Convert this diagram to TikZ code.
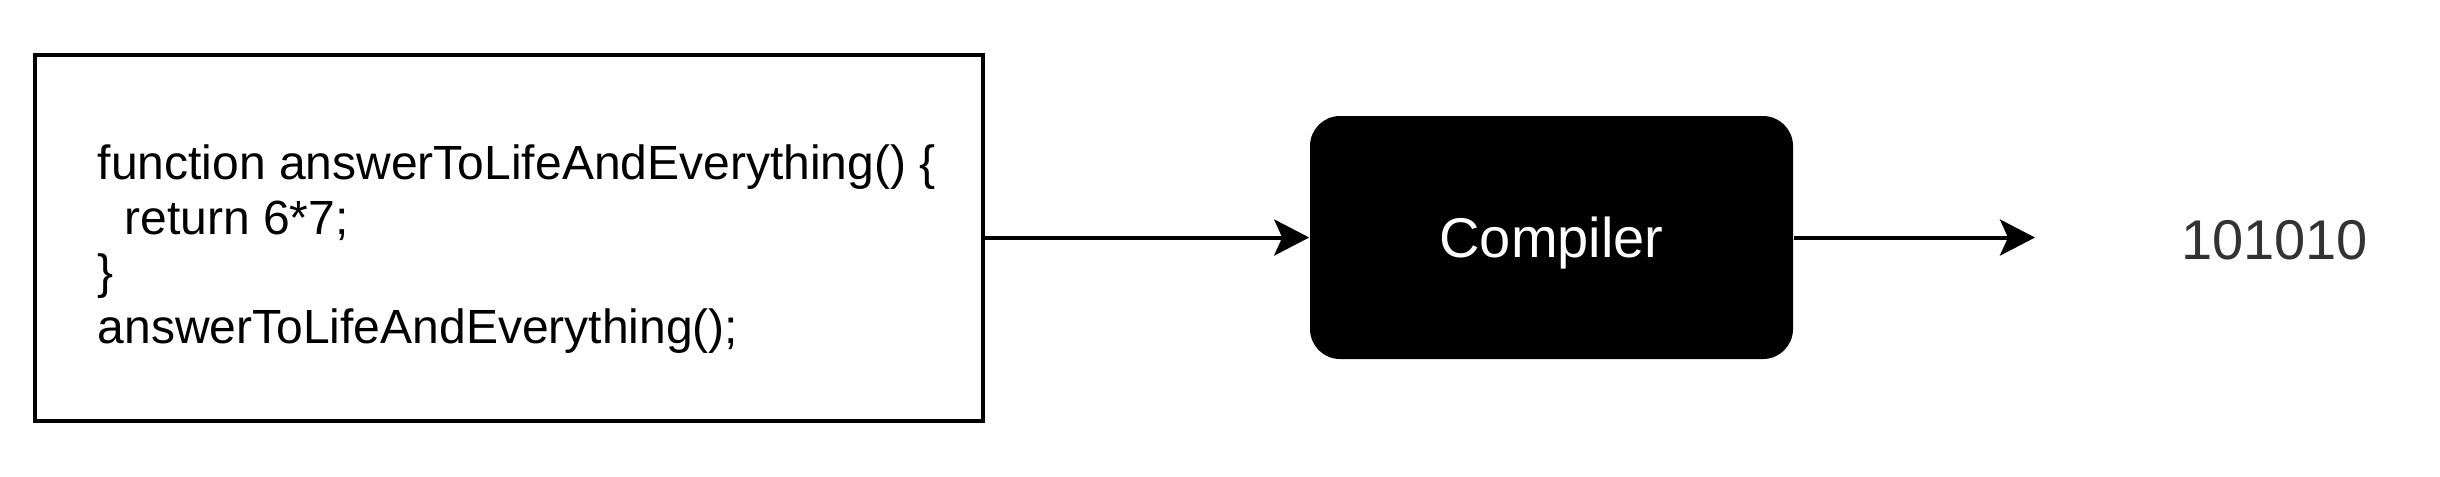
\documentclass[tikz,border=0pt]{standalone}
\usepackage{fontspec}
\setmainfont{Liberation Sans}
\usetikzlibrary{arrows.meta}
\begin{document}
\begin{tikzpicture}[x=0.25pt,y=-0.25pt,
  conn/.style={line width=1pt, -{Stealth[length=8.75pt,width=9pt,inset=2pt]}},
  srcbox/.style={draw, line width=1pt, minimum width=237pt, minimum height=91.5pt, inner sep=0pt},
  codetext/.style={inner sep=0pt, align=left, font=\fontsize{12}{13.6}\selectfont},
  compbox/.style={fill=black, rounded corners=7.5pt, minimum width=120.75pt, minimum height=60.75pt, text=white, font=\fontsize{14}{16.8}\selectfont, text height=10pt, text depth=0pt, inner sep=0pt},
  outtext/.style={text=black!80, font=\fontsize{14}{16.8}\selectfont, text height=10pt, text depth=0pt, inner sep=0pt}]
\fill[white] (0,0) rectangle (2440,476);
\useasboundingbox (0,0) rectangle (2440,476);
\node[srcbox] (src) at (509,237.5) {};
\node[codetext, anchor=west] (code) at (97,249) {function answerToLifeAndEverything() \{\\\hspace*{6.7pt}return 6*7;\\\}\\answerToLifeAndEverything();};
\node[compbox] (comp) at (1551.5,237.5) {Compiler};
\coordinate (out) at (2035,237.5);
\node[outtext] (res) at (2274.5,239) {101010};
\draw[conn] (src.east) -- (comp.west);
\draw[conn] (comp.east) -- (out);
\end{tikzpicture}
\end{document}
